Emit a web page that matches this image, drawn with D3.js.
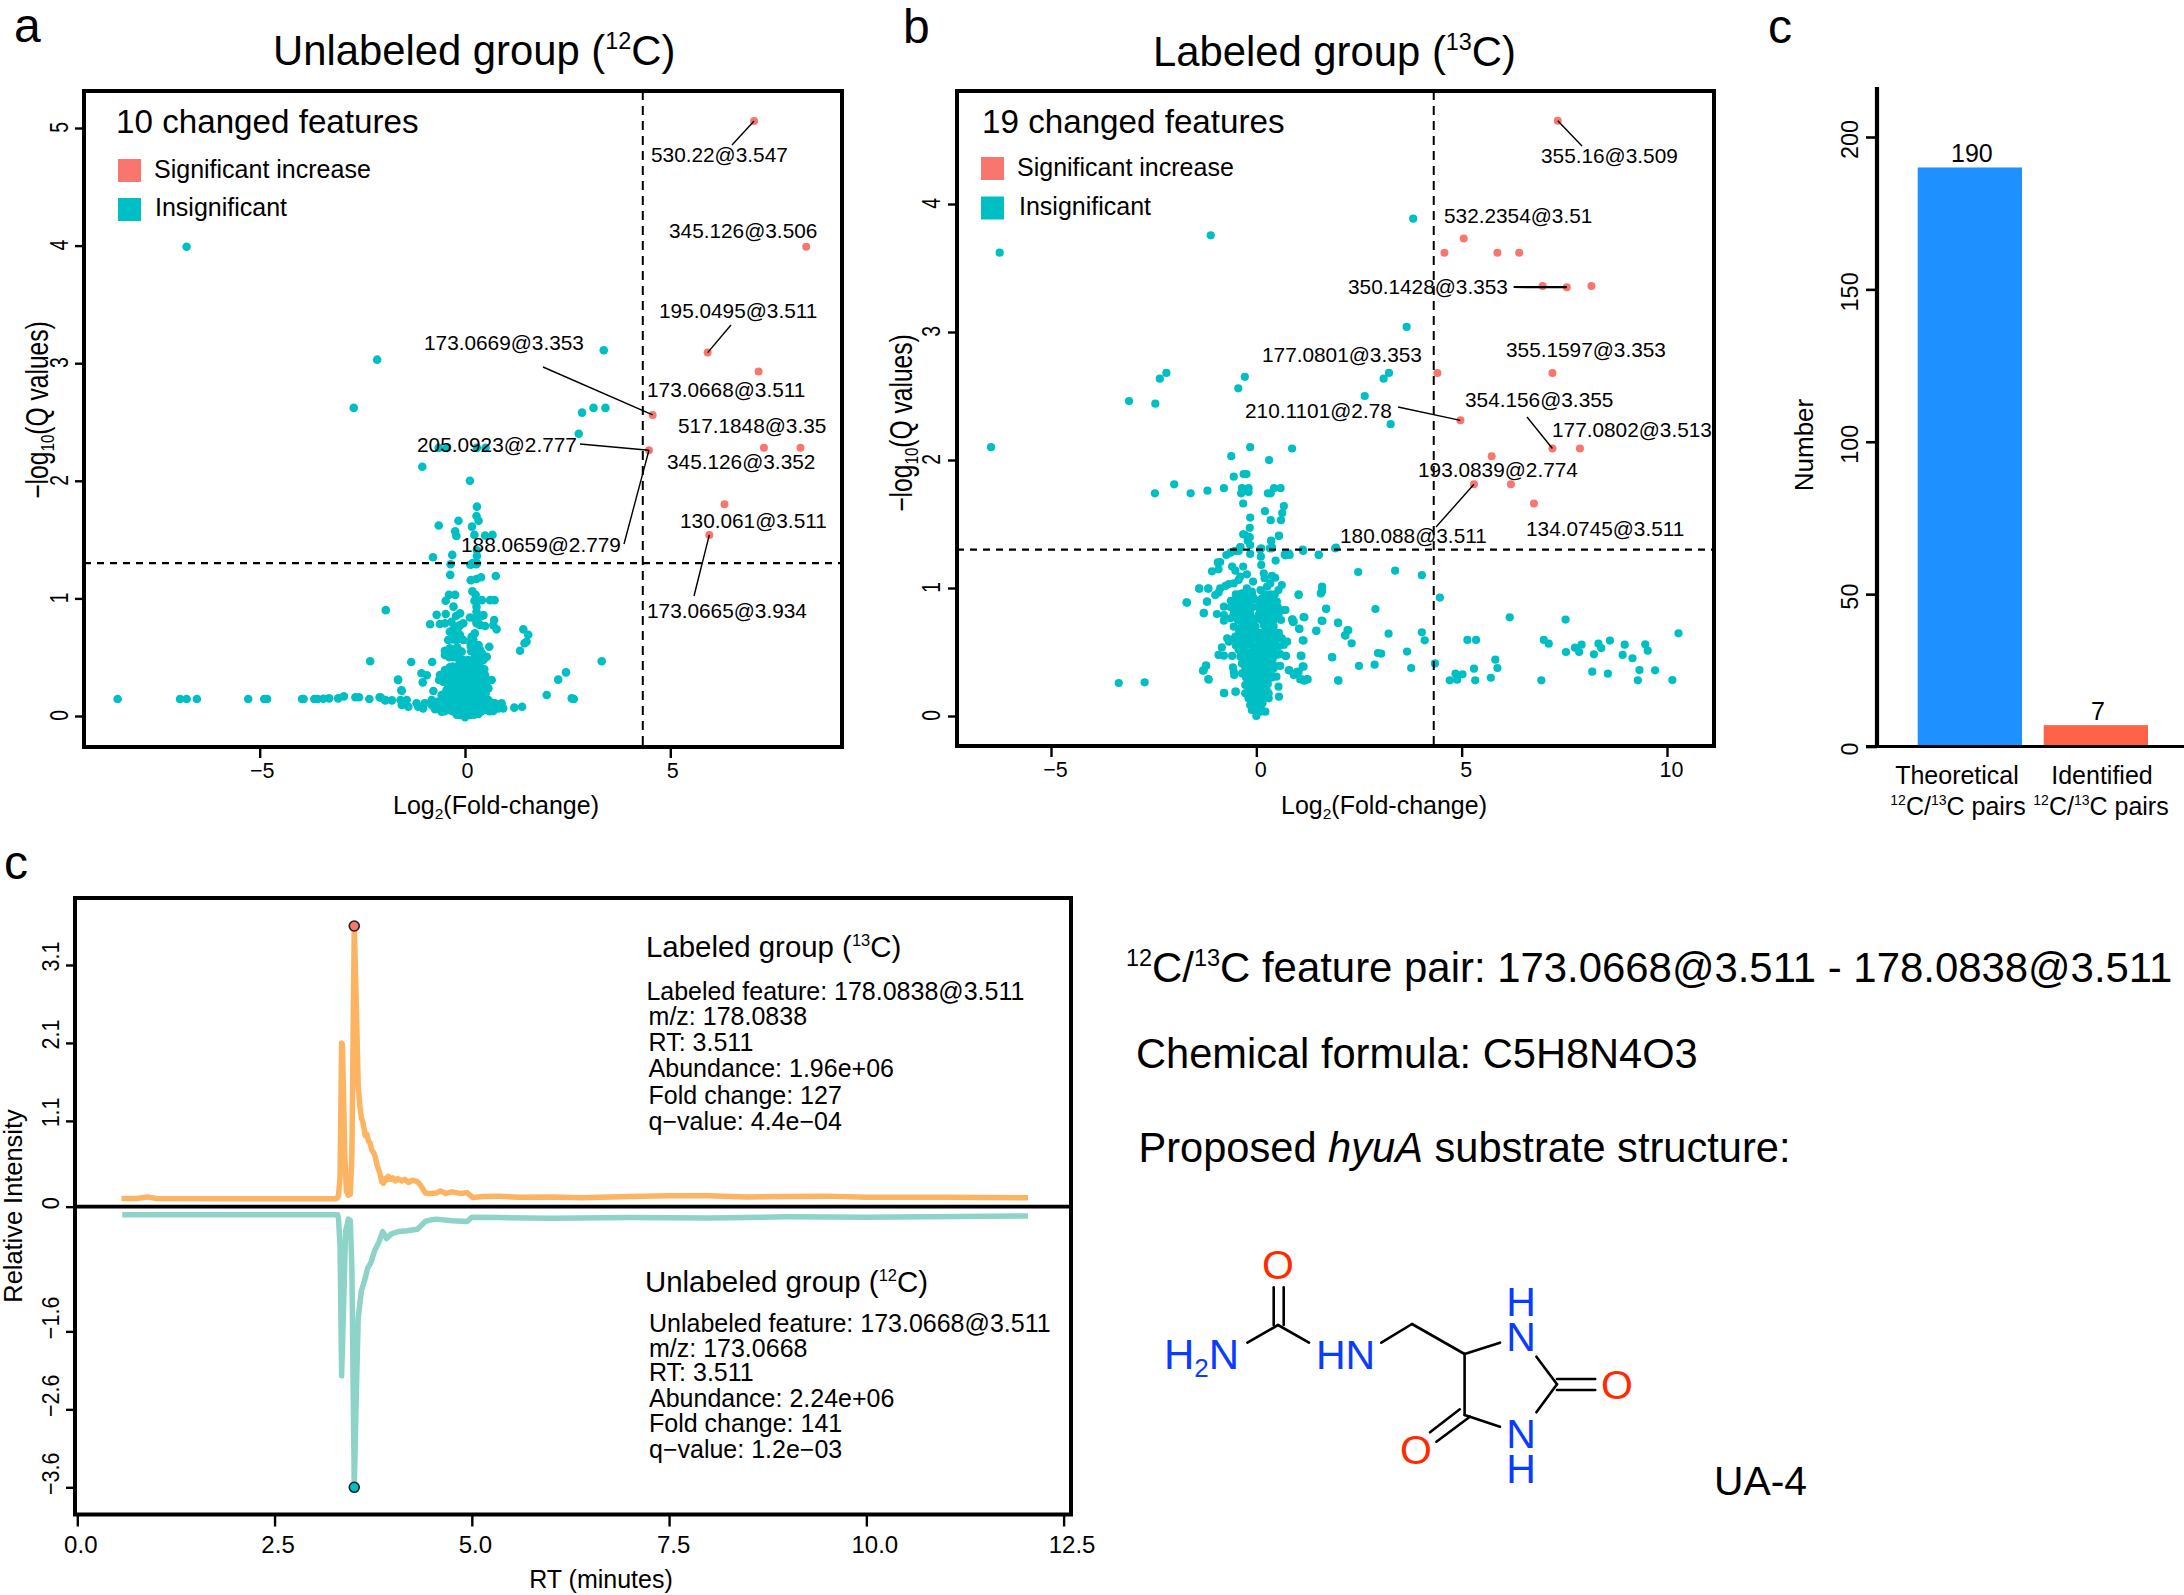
<!DOCTYPE html>
<html><head><meta charset="utf-8">
<script src="https://d3js.org/d3.v7.min.js"></script>
<style>html,body{margin:0;padding:0;background:#fff}svg{display:block}text{font-family:"Liberation Sans",Arial,sans-serif;fill:#000}</style>
</head><body><svg id="c" width="2184" height="1595"></svg>
<script>
// ---------- DATA ----------
const unlabeledUp = [[7.04,5.06],[8.31,3.99],[5.91,3.09],[7.15,2.93],[4.57,2.56],[7.28,2.28],[8.17,2.28],[4.48,2.26],[6.32,1.80],[5.95,1.54]];
const unlabeledFlat = [[-6.78,3.99],[-2.14,3.03],[-2.71,2.62],[3.38,3.11],[2.85,2.58],[3.13,2.62],[3.42,2.62],[2.77,2.40],[-.64,2.28],[-.44,2.28],[.29,2.28],[.5,2.28],[-1.04,2.12],[.12,2.0],[.29,1.78],[.28,1.70],[.33,1.66],[-.16,1.66],[-.64,1.62],[.17,1.61],[-.24,1.57],[-.21,1.53],[.23,1.54],[.49,1.535],[.67,1.54],[-.31,1.37],[-.78,1.35],[.29,1.41],[.29,1.36],[.29,1.3],[-.35,1.29],[.13,1.286],[.19,1.30],[-.36,1.20],[.16,1.29],[.28,1.29],[.75,1.19],[.39,1.18],[.28,1.165],[.14,1.155],[.18,1.06],[.26,1.03],[-.39,1.03],[-.24,1.03],[-.47,.98],[.23,.98],[.41,.985],[.61,.985],[.72,.985],[-.28,.93],[-1.93,.90],[.28,.93],[.28,.887],[-.69,.86],[-.47,.867],[-.12,.873],[-.22,.85],[.45,.858],[.12,.838],[.24,.83],[.37,.844],[-.85,.78],[-.61,.782],[-.49,.788],[-.33,.80],[-.04,.788],[-.12,.773],[-.24,.76],[.71,.816],[.69,.773],[.77,.737],[.49,.765],[.28,.788],[.37,.773],[1.42,.737],[1.54,.691],[1.50,.632],[1.45,.618],[1.34,.555],[-.37,.717],[-.28,.703],[-.12,.688],[-.41,.646],[-.2,.646],[.24,.703],[.16,.674],[-.04,.646],[.12,.632],[.59,.589],[.33,.603],[.14,.595],[.24,.575],[.37,.561],[-.49,.555],[-.49,.518],[-.37,.575],[-.19,.584],[-.08,.547],[-.24,.533],[-.16,.49],[.41,.533],[.53,.504],[.45,.476],[.24,.504],[.08,.476],[-1.31,.459],[-.80,.459],[-1.06,.363],[-.93,.346],[-1.03,.286],[-1.63,.306],[-1.54,.215],[-.77,.212],[-.37,.414],[-.49,.391],[-.61,.348],[-.63,.306],[-.53,.292],[-.24,.391],[-.12,.419],[-.04,.363],[.08,.391],[.2,.405],[.37,.419],[.47,.397],[.49,.348],[.65,.306],[.57,.3],[.37,.32],[.2,.334],[0,.306],[-.16,.32],[-.33,.306],[2.27,.309],[2.46,.371],[1.99,.178],[2.65,.144],[2.6,.15],[3.33,.465],[-2.31,.465],[.57,.235],[.49,.22],[.37,.235],[.24,.25],[.08,.263],[-.12,.25],[-.28,.263],[-.45,.22],[-.57,.178],[-.65,.122],[-.49,.15],[-.33,.178],[-.16,.193],[0,.207],[.16,.193],[.33,.178],[.45,.15],[.57,.136],[.73,.108],[.89,.108],[.93,.065],[.81,.065],[.69,.042],[.53,.08],[.37,.108],[.2,.122],[.04,.136],[-.12,.142],[-.28,.122],[-.45,.108],[-.61,.093],[-.81,.136],[-.81,.093],[-.73,.057],[-.57,.037],[-.37,.051],[-.2,.037],[-.12,.008],[0,-.011],[.12,.008],[.33,.017],[.49,.051],[.2,.051],[0,.065],[-1.02,.065],[-1.14,.079],[-1.38,.079],[-1.54,.093],[-1.57,.136],[-1.42,.136],[-1.18,.108],[-.98,.108],[-1.78,.133],[-1.95,.136],[-2.05,.156],[1.20,.071],[1.39,.079],[-.2,.235],[.12,.22],[-.08,.108],[.08,.079],[.28,.079],[-.24,.079],[-.41,.164],[-.2,.348],[.12,.348],[-.04,.476],[-.12,.448],[.12,.448],[.28,.462],[-.37,.363],[-.41,.263],[-8.46,.144],[-6.94,.144],[-6.78,.144],[-6.53,.144],[-5.28,.144],[-4.89,.144],[-4.82,.144],[-3.97,.144],[-3.93,.144],[-3.67,.144],[-3.59,.144],[-3.45,.147],[-3.31,.15],[-3.09,.15],[-2.95,.167],[-2.67,.16],[-2.58,.16],[-2.33,.144],[-2.08,.16],[-1.94,.133],[-1.55,.218],[-1.63,.309]];
// dense part of the unlabeled cloud, read row by row: [y, [x, x, ...]]
const unlabeledDenseRows = [[.74,[-.28,-.18]],[.65,[-.3,.2]],[.55,[-.3,-.15,.15,.3]],[.5,[-.38,-.28,.32]],[.42,[-.3,-.2,-.05,.05,.28]],[.38,[-.42,-.3,-.18,-.08,.02,.15,.3,.42]],[.33,[-.5,-.35,-.25,-.1,.05,.15,.28,.42]],[.28,[-.42,-.3,-.2,-.05,.08,.2,.3,.42,.5]],[.23,[-.42,-.3,-.15,-.05,.05,.15,.28,.4]],[.19,[-.48,-.38,-.25,-.1,.06,.25,.4,.5]],[.15,[-.55,-.4,-.22,-.05,.08,.22,.38,.5]],[.11,[-.55,-.38,-.15,.05,.12,.3,.45,.65]],[.08,[-.65,-.45,-.32,-.2,-.05,.12,.38,.6,.75]],[.04,[-.5,-.3,-.08,.08,.22,.4,.6]],[.01,[-.2,-.05,.05,.22]]];
const labeledUp = [[7.34,4.65],[5.05,3.73],[4.58,3.62],[5.87,3.62],[6.40,3.62],[6.97,3.36],[7.56,3.35],[8.16,3.36],[4.41,2.68],[7.21,2.68],[4.97,2.31],[7.21,2.09],[7.88,2.09],[5.73,2.03],[5.30,1.81],[6.20,1.81],[6.76,1.66]];
const labeledFlat = [[-6.25,3.62],[-1.11,3.755],[3.82,3.885],[3.66,3.04],[-2.19,2.68],[-2.35,2.635],[-.28,2.65],[-.44,2.56],[-3.10,2.46],[-2.46,2.44],[2.64,2.50],[3.23,2.68],[3.10,2.635],[3.27,2.28],[-6.46,2.10],[-.15,2.10],[.87,2.09],[-.61,2.03],[.31,2.0],[-.55,1.87],[-.31,1.89],[-.24,1.89],[-2.0,1.81],[-2.47,1.74],[-1.6,1.74],[-1.19,1.76],[-.79,1.78],[-.35,1.78],[-.19,1.78],[-.37,1.74],[-.19,1.75],[.43,1.78],[.59,1.78],[.28,1.74],[.35,1.74],[-.32,1.66],[.67,1.64],[.21,1.60],[.63,1.585],[.6,1.53],[.35,1.53],[-.15,1.55],[-.16,1.47],[-.32,1.42],[-.19,1.40],[-.21,1.37],[.55,1.41],[.36,1.37],[-.39,1.32],[-.52,1.29],[.09,1.30],[.33,1.31],[1.13,1.30],[1.92,1.31],[1.52,1.26],[.69,1.26],[.79,1.27],[2.48,1.125],[3.38,1.135],[4.03,1.10],[4.47,.925],[1.60,1.01],[1.59,.97],[1.03,.95],[1.70,.84],[2.90,.836],[1.59,.745],[1.15,.773],[.87,.753],[.89,.734],[.69,.828],[1.99,.729],[1.04,.682],[1.46,.667],[2.24,.67],[2.16,.63],[2.32,.568],[3.22,.643],[4.03,.654],[4.10,.591],[1.13,.591],[6.17,.771],[7.53,.753],[10.28,.646],[5.14,.594],[5.35,.594],[7.0,.594],[7.12,.565],[7.92,.557],[7.54,.5],[7.76,.534],[7.86,.5],[8.22,.482],[8.33,.565],[8.4,.531],[8.61,.589],[8.97,.557],[8.92,.477],[9.16,.451],[9.47,.56],[9.53,.51],[5.82,.44],[5.87,.375],[5.3,.37],[4.35,.411],[3.77,.375],[3.67,.503],[2.96,.492],[3.04,.487],[2.88,.401],[2.5,.391],[1.84,.461],[1.08,.471],[.71,.469],[1.13,.388],[.79,.357],[.99,.344],[1.09,.289],[1.23,.289],[1.99,.279],[4.85,.331],[5.02,.326],[4.71,.279],[4.89,.284],[5.33,.279],[5.71,.299],[6.94,.279],[8.18,.346],[8.56,.331],[9.29,.279],[9.33,.359],[9.71,.357],[10.13,.281],[-3.35,.258],[-2.72,.263],[-1.17,.289],[-1.28,.357],[-1.23,.393],[-.79,.18],[-.51,.19],[-1.70,.888],[-1.39,.997],[-1.17,.997],[-1.2,.893],[-1.28,.805],[-.29,1.417],[-.16,1.396],[.55,1.406],[.36,1.367],[-.15,1.336],[-.39,1.318],[.38,1.318],[-.43,1.29],[-.63,1.276],[-.73,1.258],[-.88,1.203],[-.94,1.2],[-1.08,1.13],[-.92,1.146],[-.59,1.167],[-.51,1.135],[-.32,1.167],[-.23,1.107],[-.15,1.266],[.12,1.31],[.11,1.245],[.12,1.18],[.38,1.31],[.47,1.214],[.71,1.255],[.81,1.258],[1.14,1.29],[1.52,1.258],[1.94,1.315],[.18,1.115],[.2,1.076],[.38,1.094],[.46,1.08],[-.43,1.063],[-.39,1.089],[-.08,1.05],[-.55,1.036],[-.67,1.031],[-.75,1.016],[-.88,.997],[-1.17,.995],[-1.39,.995],[-.92,.964],[-1.0,.945],[-1.2,.893],[-1.69,.885],[-1.28,.802],[-.23,.997],[-.11,.971],[-.35,.958],[-.47,.932],[-.59,.893],[-.55,.867],[-.79,.854],[-.96,.797],[-.79,.789],[-.79,.745],[-.63,.763],[-.55,.698],[-.43,.685],[-.35,.737],[-.23,.776],[-.39,.828],[-.19,.893],[-.06,.919],[.1,.984],[.26,1.01],[.34,1.036],[.54,.984],[.62,1.023],[.14,.919],[.3,.893],[.5,.893],[.58,.828],[.71,.828],[.54,.789],[.6,.75],[.34,.802],[.18,.828],[.06,.789],[-.06,.763],[.34,.75],[.18,.711],[-.02,.698],[-.15,.698],[.88,.755],[.91,.737],[1.17,.771],[1.05,.68],[1.15,.589],[1.6,.979],[1.57,.958],[1.03,.945],[1.7,.836],[1.61,.742],[1.99,.727],[1.46,.664],[2.17,.628],[2.22,.672],[1.85,.458],[1.1,.469],[2.0,.276],[.34,.672],[.5,.646],[.38,.62],[.75,.581],[.62,.607],[.67,.555],[.54,.542],[.5,.477],[.72,.469],[.58,.484],[-.71,.607],[-.67,.581],[-.51,.62],[-.43,.555],[-.84,.536],[-.92,.477],[-.79,.471],[-.59,.469],[-.43,.516],[-.39,.464],[-.19,.568],[-.02,.607],[.14,.594],[-.23,.646],[-.06,.646],[-1.22,.393],[-1.3,.354],[-1.16,.284],[-.57,.38],[-.55,.346],[-.54,.32],[-.78,.177],[-.5,.19],[-.35,.411],[-.35,.333],[-.27,.242],[-.27,.177],[-.19,.464],[-.15,.385],[-.15,.307],[-.15,.229],[-.06,.464],[-.06,.411],[-.06,.333],[-.06,.255],[-.06,.177],[.06,.437],[.06,.359],[.06,.281],[.06,.203],[.18,.477],[.18,.411],[.18,.333],[.18,.255],[.3,.437],[.3,.359],[.3,.307],[.3,.177],[.3,.138],[.42,.372],[.49,.307],[.58,.391],[.8,.359],[.91,.32],[1.03,.346],[1.15,.385],[1.07,.286],[1.25,.286],[1.17,.276],[.54,.229],[.55,.151],[.22,.034],[-.11,.047],[0,0],[.1,.034],[-.15,.086],[.06,.099],[-.02,.138],[.14,.151],[-.19,.138]];
// dense part of the labeled cloud, read row by row: [y, [x, x, ...]]
const labeledDenseRows = [[.95,[-.5,-.42,-.3,-.2,-.1,.2,.35,.45]],[.9,[-.62,-.5,-.4,-.3,-.12,.05,.22,.38]],[.85,[-.62,-.48,-.33,-.22,-.1,.05,.15,.3,.42,.52]],[.8,[-.55,-.42,-.3,-.15,.08,.22,.42,.5]],[.75,[-.45,-.3,-.2,-.05,.12,.25,.42]],[.7,[-.3,-.15,-.08,.22,.3,.42]],[.65,[-.42,-.32,-.12,.1,.25,.45,.55]],[.6,[-.55,-.4,-.3,-.15,.05,.2,.32,.42,.5]],[.55,[-.5,-.35,-.25,-.1,.05,.15,.3,.42]],[.5,[-.35,-.25,-.1,0,.1,.22,.35,.42]],[.45,[-.3,-.2,-.12,.02,.12,.25,.4]],[.4,[-.3,-.2,-.1,0,.1,.2,.3,.42]],[.35,[-.28,-.2,-.1,0,.12,.22,.35]],[.3,[-.25,-.18,-.1,0,.1,.2,.3,.38]],[.25,[-.22,-.1,0,.1,.2,.28]],[.2,[-.2,-.1,-.02,.08,.18,.25]],[.15,[-.15,-.08,.02,.1,.18]],[.1,[-.12,-.05,.03,.1,.15]],[.05,[-.08,-.02,.05,.12]]];
const labelNamesA = ["530.22@3.547","345.126@3.506","195.0495@3.511","173.0669@3.353","173.0668@3.511","517.1848@3.35","205.0923@2.777","345.126@3.352","130.061@3.511","188.0659@2.779","173.0665@3.934"];
const labelNamesB = ["355.16@3.509","532.2354@3.51","350.1428@3.353","177.0801@3.353","355.1597@3.353","210.1101@2.78","354.156@3.355","177.0802@3.513","193.0839@2.774","180.088@3.511","134.0745@3.511"];
const rtLabeled = [[.56,.105],[.75,.105],[.89,.125],[1,.105],[2,.1],[3.28,.1],[3.31,.14],[3.33,.38],[3.35,2.1],[3.36,2.08],[3.39,.67],[3.41,.2],[3.435,.146],[3.46,.158],[3.48,.67],[3.51,3.6],[3.54,2.43],[3.56,1.55],[3.58,1.3],[3.6,1.14],[3.62,1.08],[3.63,1.02],[3.65,.91],[3.67,.93],[3.69,.84],[3.71,.82],[3.73,.73],[3.75,.7],[3.77,.66],[3.79,.58],[3.8,.53],[3.83,.44],[3.86,.32],[3.88,.3],[3.9,.36],[3.92,.34],[3.94,.39],[3.97,.35],[4.0,.37],[4.03,.33],[4.06,.36],[4.11,.33],[4.15,.35],[4.2,.31],[4.25,.34],[4.31,.32],[4.33,.3],[4.36,.26],[4.41,.176],[4.47,.17],[4.55,.176],[4.6,.2],[4.67,.17],[4.75,.19],[4.85,.17],[4.94,.18],[5.01,.117],[5.15,.13],[5.33,.135],[5.6,.12],[6,.125],[6.4,.115],[7,.13],[7.5,.14],[8,.14],[8.5,.125],[9,.13],[9.5,.135],[10,.12],[11,.12],[12.05,.115]];
const rtUnlabeled = [[.57,-.105],[3.3,-.105],[3.31,-.15],[3.33,-.5],[3.35,-2.17],[3.38,-1.08],[3.4,-.32],[3.435,-.16],[3.46,-.18],[3.48,-.79],[3.51,-3.6],[3.54,-2.25],[3.56,-1.43],[3.6,-1.08],[3.64,-.95],[3.68,-.79],[3.72,-.72],[3.77,-.56],[3.82,-.46],[3.87,-.32],[3.92,-.41],[3.98,-.35],[4.07,-.32],[4.18,-.31],[4.31,-.29],[4.41,-.19],[4.48,-.17],[4.55,-.16],[4.75,-.18],[4.94,-.19],[5.0,-.135],[5.33,-.14],[6,-.15],[7,-.14],[8,-.145],[9,-.13],[10,-.135],[12.05,-.12]];
const peakLabeled = [3.51,3.6], peakUnlabeled = [3.51,-3.6];
const barCategories = ["Theoretical","Identified"];
const barValues = [190,7];
const ticksA = {x:[-5,0,5], y:[0,1,2,3,4,5]};
const ticksB = {x:[-5,0,5,10], y:[0,1,2,3,4]};
const rtTicksX = [0,2.5,5,7.5,10,12.5];
const rtTicksY = [3.1,2.1,1.1,0,-1.6,-2.6,-3.6];
const barTicks = [0,50,100,150,200];
const labeledInfo = ["Labeled feature: 178.0838@3.511","m/z: 178.0838","RT: 3.511","Abundance: 1.96e+06","Fold change: 127","q\u2212value: 4.4e\u221204"];
const unlabeledInfo = ["Unlabeled feature: 173.0668@3.511","m/z: 173.0668","RT: 3.511","Abundance: 2.24e+06","Fold change: 141","q\u2212value: 1.2e\u221203"];

// ---------- STYLE / LAYOUT ----------
const RED="#F8766D", TEAL="#00BFC4", ORANGE="#FDB462", MINT="#8DD3C7", NBLUE="#0A3CFF", ORED="#FF2A00";
const svg=d3.select("#c");
const mn=v=>String(v).replace("-","\u2212");
const expand=rows=>rows.flatMap(([y,xs])=>xs.map(x=>[x,y]));
function txt(g,x,y,parts,fs,o={}){
  const t=g.append("text").attr("x",x).attr("y",y).attr("font-size",fs);
  if(o.anchor)t.attr("text-anchor",o.anchor);
  if(o.fill)t.style("fill",o.fill);
  if(o.transform)t.attr("transform",o.transform);
  let pend=0;
  (Array.isArray(parts)?parts:[parts]).forEach(p=>{
    const s=t.append("tspan");
    let dy=pend;pend=0;
    if(typeof p==="string"){s.text(p);}
    else if(p.sup){s.text(p.sup).attr("font-size",fs*.56);dy-=fs*.38;pend=fs*.38;}
    else if(p.sub){s.text(p.sub).attr("font-size",fs*.62);dy+=fs*.2;pend=-fs*.2;}
    else if(p.i){s.text(p.i).attr("font-style","italic");}
    if(dy)s.attr("dy",dy);
  });
  return t;
}
function rot(g,x,y,parts,fs,along,across){
  return txt(g,0,0,parts,fs,{anchor:"middle",transform:`translate(${x},${y}) rotate(-90) scale(${along/fs},${across/fs})`});
}
function styleAxis(a,w){a.select(".domain").remove();a.selectAll("line").attr("stroke","#000").attr("stroke-width",w);}

function volcano(cfg){
  const g=svg.append("g");
  const {L,R,T,B}=cfg;
  const x=d3.scaleLinear().domain(cfg.xd).range([cfg.x0,cfg.x1]);
  const y=d3.scaleLinear().domain(cfg.yd).range([cfg.y0,cfg.y1]);
  g.append("g").selectAll("circle").data(cfg.flat).join("circle").attr("cx",d=>x(d[0])).attr("cy",d=>y(d[1])).attr("r",cfg.r).attr("fill",TEAL);
  g.append("g").selectAll("circle").data(cfg.up).join("circle").attr("cx",d=>x(d[0])).attr("cy",d=>y(d[1])).attr("r",4).attr("fill",RED);
  g.append("line").attr("x1",L).attr("x2",R).attr("y1",y(1.3)).attr("y2",y(1.3)).attr("stroke","#000").attr("stroke-width",2.4).attr("stroke-dasharray","7 6");
  g.append("line").attr("x1",x(cfg.vline)).attr("x2",x(cfg.vline)).attr("y1",T).attr("y2",B).attr("stroke","#000").attr("stroke-width",2).attr("stroke-dasharray","9 6");
  g.append("rect").attr("x",L).attr("y",T).attr("width",R-L).attr("height",B-T).attr("fill","none").attr("stroke","#000").attr("stroke-width",4);
  const ax=g.append("g").attr("transform",`translate(0,${B})`).call(d3.axisBottom(x).tickValues(cfg.tx).tickSize(11).tickFormat(mn));
  styleAxis(ax,2.4);
  ax.selectAll("text").attr("y",null).attr("dy",null).attr("transform",`translate(${cfg.xLabelShift},31)`).attr("font-size",21.5).attr("font-family",null);
  const ay=g.append("g").attr("transform",`translate(${L},0)`).call(d3.axisLeft(y).tickValues(cfg.ty).tickSize(9).tickFormat(mn));
  styleAxis(ay,2.4);
  ay.selectAll("text").attr("x",null).attr("dy",null).attr("text-anchor","middle").attr("font-size",21).attr("font-family",null)
    .attr("transform",`translate(${cfg.tickBase-L},-1) rotate(-90) scale(.92,1.24)`);
  txt(g,cfg.titleX,cfg.titleY,cfg.title,41.8);
  txt(g,cfg.capX,133,cfg.cap,33.2);
  g.append("rect").attr("x",cfg.sq).attr("y",cfg.l1-19).attr("width",23).attr("height",23).attr("fill",RED);
  g.append("rect").attr("x",cfg.sq).attr("y",cfg.l2-18).attr("width",23).attr("height",23).attr("fill",TEAL);
  txt(g,cfg.lx1,cfg.l1,"Significant increase",25);
  txt(g,cfg.lx2,cfg.l2,"Insignificant",25);
  txt(g,cfg.xlab,814,["Log",{sub:"2"},"(Fold-change)"],25,{anchor:"middle"});
  rot(g,cfg.ylabX,cfg.ylabY,["\u2212log",{sub:"10"},"(Q values)"],24,24.6,31);
  cfg.leaders.forEach(l=>{
    const d=cfg.up[l.pt];
    g.append("line").attr("x1",x(d[0])).attr("y1",y(d[1])).attr("x2",l.x).attr("y2",l.y).attr("stroke","#000").attr("stroke-width",l.w||1.4);
  });
  cfg.names.forEach((n,i)=>txt(g,cfg.pos[i][0],cfg.pos[i][1],n,20.8));
  txt(g,cfg.tagX,cfg.tagY,cfg.tag,48);
}

volcano({tag:"a",tagX:14,tagY:42,L:84,R:842,T:91,B:747,r:4.3,xLabelShift:2,
  xd:[-5,5],x0:259.7,x1:670.3,yd:[0,5],y0:716,y1:128,vline:4.33,
  tx:ticksA.x,ty:ticksA.y,flat:unlabeledFlat.concat(expand(unlabeledDenseRows)),up:unlabeledUp,tickBase:68,
  title:["Unlabeled group (",{sup:"12"},"C)"],titleX:273,titleY:65,cap:"10 changed features",capX:116,sq:118,
  l1:178,l2:216,lx1:154,lx2:155,xlab:496,ylabX:48,ylabY:410,names:labelNamesA,
  pos:[[651,162],[669,238],[659,318],[424,350],[647,397],[678,433],[417,452],[667,469],[680,528],[461,552],[647,618]],
  leaders:[{pt:0,x:732,y:145},{pt:2,x:731,y:325},{pt:4,x:543,y:367},{pt:7,x:580,y:444},{pt:7,x:624,y:544},{pt:9,x:694,y:596}]});

volcano({tag:"b",tagX:903,tagY:43,L:957,R:1714,T:91,B:746,r:4.1,xLabelShift:4,
  xd:[-5,10],x0:1051,x1:1667,yd:[0,4],y0:716,y1:204,vline:4.32,
  tx:ticksB.x,ty:ticksB.y,flat:labeledFlat.concat(expand(labeledDenseRows)),up:labeledUp,tickBase:940,
  title:["Labeled group (",{sup:"13"},"C)"],titleX:1153,titleY:66,cap:"19 changed features",capX:982,sq:981,
  l1:176,l2:214.5,lx1:1017,lx2:1019,xlab:1384,ylabX:912,ylabY:423,names:labelNamesB,
  pos:[[1541,163],[1444,223],[1348,294],[1262,362],[1506,357],[1245,418],[1465,407],[1552,437],[1418,477],[1340,543],[1526,536]],
  leaders:[{pt:0,x:1582,y:146},{pt:6,x:1513.6,y:287,w:2.2},{pt:10,x:1398,y:407},{pt:11,x:1527,y:417},{pt:14,x:1436,y:527}]});

// ---------- BAR PANEL ----------
(function(){
  const g=svg.append("g");
  const y=d3.scaleLinear().domain([0,200]).range([746.5,137]);
  const x=d3.scaleBand().domain(barCategories).range([1917.7,2148]).paddingInner(.172).paddingOuter(0);
  const cols=["#1E90FF","#FF6347"];
  g.selectAll("rect.bar").data(barValues).join("rect").attr("class","bar")
    .attr("x",(d,i)=>x(barCategories[i])).attr("width",x.bandwidth()).attr("y",d=>y(d)).attr("height",d=>y(0)-y(d)).attr("fill",(d,i)=>cols[i]);
  g.selectAll("text.v").data(barValues).join("text").attr("class","v").attr("x",(d,i)=>x(barCategories[i])+x.bandwidth()/2+2).attr("y",d=>y(d)-5).attr("text-anchor","middle").attr("font-size",25).text(d=>d);
  g.append("line").attr("x1",1877).attr("x2",1877).attr("y1",87).attr("y2",748).attr("stroke","#000").attr("stroke-width",4.2);
  g.append("line").attr("x1",1866).attr("x2",2184).attr("y1",746.5).attr("y2",746.5).attr("stroke","#000").attr("stroke-width",3);
  const ay=g.append("g").attr("transform","translate(1877,0)").call(d3.axisLeft(y).tickValues(barTicks).tickSize(11));
  styleAxis(ay,2.6);
  ay.selectAll("text").attr("x",null).attr("dy",null).attr("text-anchor","middle").attr("font-size",23).attr("font-family",null)
    .attr("transform","translate(-19,2) rotate(-90) scale(1.02,1.08)");
  rot(g,1813,445,"Number",24.5,26,26);
  const cx=[1957,2102];
  barCategories.forEach((c,i)=>{
    txt(g,cx[i],783.5,c,25,{anchor:"middle"});
    txt(g,cx[i]+(i?-1:1),814.5,[{sup:"12"},"C/",{sup:"13"},"C pairs"],25,{anchor:"middle"});
  });
  txt(g,1768,43,"c",48);
})();

// ---------- CHROMATOGRAM ----------
(function(){
  const g=svg.append("g");
  const L=75,R=1071,T=898,B=1514.5;
  const x=d3.scaleLinear().domain([0,12.5]).range([77.3,1063.6]);
  const y=d3.scaleLinear().domain([-3.6,3.6]).range([1487.3,926]);
  const line=d3.line().x(d=>x(d[0])).y(d=>y(d[1])).curve(d3.curveLinear);
  g.append("path").datum(rtLabeled).attr("d",line).attr("fill","none").attr("stroke",ORANGE).attr("stroke-width",5.5).attr("stroke-linejoin","round");
  g.append("path").datum(rtUnlabeled).attr("d",line).attr("fill","none").attr("stroke",MINT).attr("stroke-width",5.5).attr("stroke-linejoin","round");
  g.append("line").attr("x1",L).attr("x2",R).attr("y1",y(0)).attr("y2",y(0)).attr("stroke","#000").attr("stroke-width",3.6);
  g.append("rect").attr("x",L).attr("y",T).attr("width",R-L).attr("height",B-T).attr("fill","none").attr("stroke","#000").attr("stroke-width",4);
  g.append("circle").attr("cx",x(peakLabeled[0])).attr("cy",y(peakLabeled[1])).attr("r",5).attr("fill",RED).attr("stroke","#222").attr("stroke-width",1.6);
  g.append("circle").attr("cx",x(peakUnlabeled[0])).attr("cy",y(peakUnlabeled[1])).attr("r",5).attr("fill",TEAL).attr("stroke","#222").attr("stroke-width",1.6);
  const labelShift=[3,3,3,4,8,8];
  const ax=g.append("g").attr("transform",`translate(0,${B})`).call(d3.axisBottom(x).tickValues(rtTicksX).tickSize(12).tickFormat(d3.format(".1f")));
  styleAxis(ax,2.4);
  ax.selectAll("text").attr("y",null).attr("dy",null).attr("transform",(d,i)=>`translate(${labelShift[i]},38)`).attr("font-size",24).attr("font-family",null);
  const ay=g.append("g").attr("transform",`translate(${L},0)`).call(d3.axisLeft(y).tickValues(rtTicksY).tickSize(9).tickFormat(d=>mn(d)));
  styleAxis(ay,2.4);
  const yShift=d=>d>0?-9:(d===0?-4:-14);
  ay.selectAll("text").attr("x",null).attr("dy",null).attr("text-anchor","middle").attr("font-size",22).attr("font-family",null)
    .attr("transform",d=>`translate(-16,${yShift(d)}) rotate(-90) scale(.98,1.12)`);
  rot(g,22,1206,"Relative Intensity",25,25.4,25);
  txt(g,601,1588,"RT (minutes)",25,{anchor:"middle"});
  txt(g,646,956.7,["Labeled group (",{sup:"13"},"C)"],29.4);
  txt(g,645,1291.9,["Unlabeled group (",{sup:"12"},"C)"],29.4);
  const ly=[999.6,1025.2,1051.2,1077.3,1103.7,1129.8], uy=[1332,1357,1381.4,1406.5,1431.6,1457.6];
  labeledInfo.forEach((s,i)=>txt(g,i?648.6:646.4,ly[i],s,25));
  unlabeledInfo.forEach((s,i)=>txt(g,649,uy[i],s,25));
  txt(g,4,879,"c",48);
})();

// ---------- RIGHT TEXT + STRUCTURE ----------
(function(){
  const g=svg.append("g");
  txt(g,1126,982,[{sup:"12"},"C/",{sup:"13"},"C feature pair: 173.0668@3.511 - 178.0838@3.511"],41.9);
  txt(g,1136,1067.7,"Chemical formula: C5H8N4O3",41.6);
  txt(g,1138.5,1161.7,["Proposed ",{i:"hyuA"}," substrate structure:"],41.6);
  txt(g,1714,1495,"UA-4",40.8);
  const bonds=[[1247.4,1342.7,1278,1325],[1278,1325,1309,1342.7],[1273.7,1325,1273.7,1287.3],[1283.7,1325,1283.7,1287.3],
    [1381.3,1342.7,1412,1324],[1412,1324,1464.6,1354],[1464.6,1354,1500,1342.7],[1464.6,1354,1464.6,1415],[1464.6,1415,1500,1426.7],
    [1536.4,1356.7,1557,1384.3],[1557,1384.3,1536.4,1412.3],[1557,1379,1595.2,1379],[1557,1390,1595.2,1390],
    [1459.8,1409.3,1430,1432.3],[1469.9,1416.7,1436.4,1441.7]];
  g.selectAll("line.b").data(bonds).join("line").attr("class","b").attr("x1",d=>d[0]).attr("y1",d=>d[1]).attr("x2",d=>d[2]).attr("y2",d=>d[3]).attr("stroke","#000").attr("stroke-width",2.6).attr("stroke-linecap","round");
  txt(g,1164,1369,["H",{sub:"2"},"N"],42,{fill:NBLUE});
  txt(g,1316,1369,"HN",41,{fill:NBLUE});
  [[1521,1316,"H"],[1521,1351,"N"],[1521,1448,"N"],[1521,1483,"H"]].forEach(a=>txt(g,a[0],a[1],a[2],41,{fill:NBLUE,anchor:"middle"}));
  [[1278,1279],[1617,1399],[1416,1464]].forEach(a=>txt(g,a[0],a[1],"O",41,{fill:ORED,anchor:"middle"}));
})();
</script></body></html>
